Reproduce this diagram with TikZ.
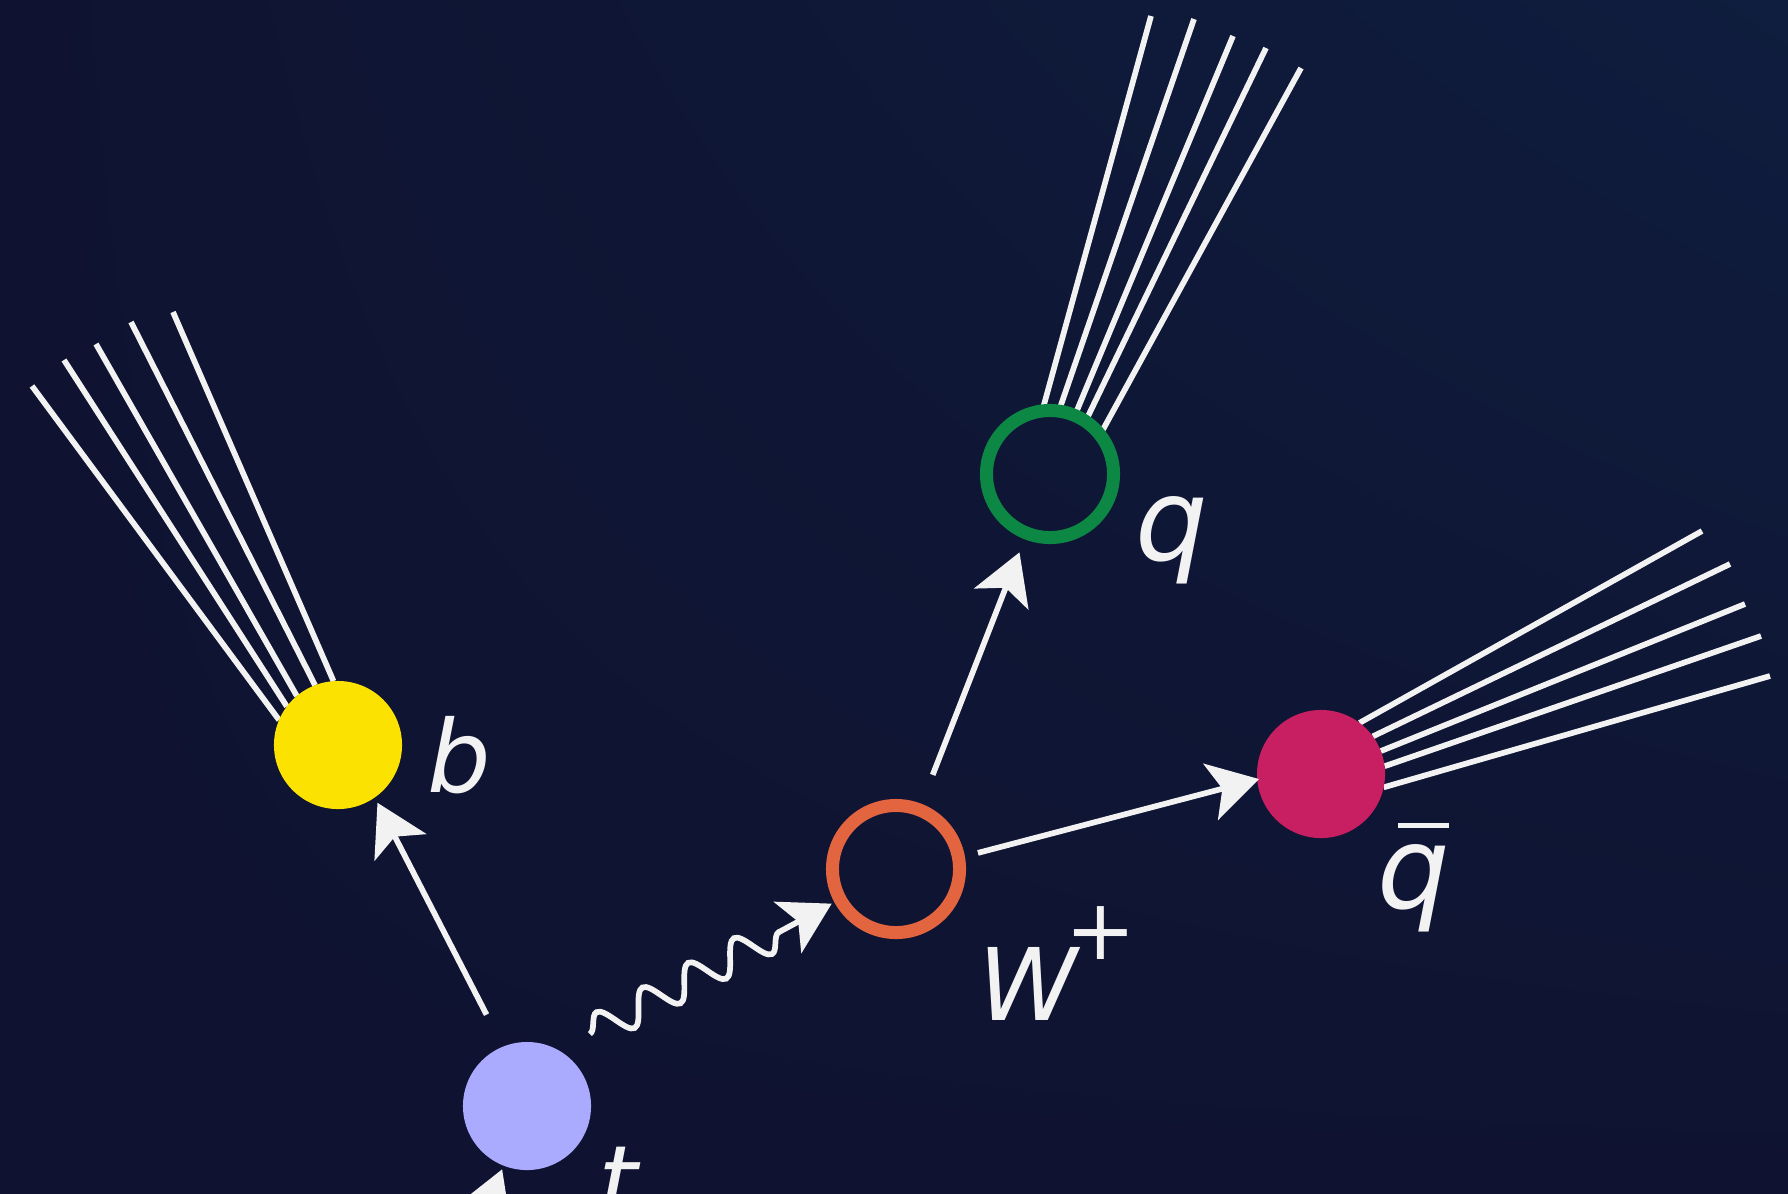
\documentclass[tikz,border=0pt]{standalone}
\usepackage{fontspec}
\usepackage{xcolor}
\usepackage{tikz}
\usetikzlibrary{arrows.meta,positioning,calc,decorations.pathmorphing,backgrounds,shadings}
\newfontfamily\lblfont{DejaVu Sans}
\definecolor{bgnavy}{RGB}{15,19,49}
\definecolor{bgnavyhi}{RGB}{15,29,62}
\definecolor{inkwhite}{RGB}{242,242,242}
\definecolor{topblue}{RGB}{170,170,255}
\definecolor{bottomyellow}{RGB}{252,226,0}
\definecolor{quarkgreen}{RGB}{12,136,68}
\definecolor{wboson}{RGB}{226,101,64}
\definecolor{antiquark}{RGB}{200,30,98}

\begin{document}
\begin{tikzpicture}[
  x=0.01cm, y=-0.01cm,
  blob/.style={circle, minimum size=1.28cm, inner sep=0pt, outer sep=0pt},
  ring/.style={circle, minimum size=1.27cm, inner sep=0pt, outer sep=0pt, line width=0.13cm},
  lab/.style={text=inkwhite, font=\lblfont\fontsize{28.5}{34}\selectfont\itshape, inner sep=0pt},
  qlab/.style={lab, font=\lblfont\fontsize{32.5}{38}\selectfont\itshape},
  arr/.style={-{Stealth[length=5mm, width=5.8mm, inset=1.2mm]}, line width=0.057cm, draw=inkwhite},
  jet/.style={line width=0.057cm, draw=inkwhite},
  wavy/.style={arr, decorate, decoration={snake, amplitude=1.6mm, segment length=5.2mm, post length=4.3mm}},
]
\useasboundingbox (0,0) rectangle (1788,1193);
\begin{scope}[on background layer]
  \shade[upper left=bgnavy, upper right=bgnavyhi, lower left=bgnavy, lower right=bgnavy]
    (0,0) rectangle (1788,1193);
\end{scope}

% particles
\node[blob, fill=topblue] (t) at (527,1106) {};
\node[blob, fill=bottomyellow] (b) at (338,745) {};
\node[ring, draw=wboson] (W) at (896,869) {};
\node[ring, draw=quarkgreen] (q) at (1050,474) {};
\node[blob, fill=antiquark] (qbar) at (1321,774) {};

% labels
\node[lab, anchor=base west] (tlbl) at (598,1217) {t};
\node[lab, anchor=base west] (blbl) at (427,792) {b};
\node[lab, anchor=base west] (Wlbl) at (978,1020) {W\kern-0.12em\raisebox{0.6em}{\upshape\fontsize{24}{24}\selectfont +}};
\node[qlab, anchor=base west] (qlbl) at (1135,560) {q};
\node[qlab, anchor=base west] (qbarlbl) at (1377,908)
  {\makebox[0pt][l]{\hspace{0.18em}\rule[0.7em]{0.44em}{0.04em}}q};

% decay lines
\coordinate (tin) at (430,1353);
\coordinate (wstart) at ($(t.60)!0.35cm!(W)$);
\coordinate (wend) at ($(W)!0.73cm!(t.60)$);
\draw[arr, shorten >=0.04cm] (tin) -- (t);
\draw[arr, shorten <=0.36cm, shorten >=0.06cm] (t.112) -- (b.-55);
\draw[wavy] (wstart) -- (wend);
\draw[arr, shorten <=0.375cm, shorten >=0.205cm] (W) -- (q);
\draw[arr, shorten <=0.2cm, shorten >=-0.02cm] (W.10) -- (qbar.185);

% jets
\coordinate (bj1) at (32,386);
\coordinate (bj2) at (64,360);
\coordinate (bj3) at (96,344);
\coordinate (bj4) at (131,322);
\coordinate (bj5) at (173,312);
\coordinate (qj1) at (1151,16);
\coordinate (qj2) at (1194,19);
\coordinate (qj3) at (1233,36);
\coordinate (qj4) at (1266,48);
\coordinate (qj5) at (1301,68);
\coordinate (qbj1) at (1702,531);
\coordinate (qbj2) at (1730,564);
\coordinate (qbj3) at (1745,604);
\coordinate (qbj4) at (1761,636);
\coordinate (qbj5) at (1770,676);
\begin{scope}[on background layer]
  \draw[jet] (b.157) -- (bj1);
  \draw[jet] (b.143) -- (bj2);
  \draw[jet] (b.130) -- (bj3);
  \draw[jet] (b.111) -- (bj4);
  \draw[jet] (b.94) -- (bj5);
  \draw[jet] (q.97) -- (qj1);
  \draw[jet] (q.82) -- (qj2);
  \draw[jet] (q.67) -- (qj3);
  \draw[jet] (q.56) -- (qj4);
  \draw[jet] (q.38) -- (qj5);
  \draw[jet] (qbar.53) -- (qbj1);
  \draw[jet] (qbar.36) -- (qbj2);
  \draw[jet] (qbar.21) -- (qbj3);
  \draw[jet] (qbar.7) -- (qbj4);
  \draw[jet] (qbar.-12) -- (qbj5);
\end{scope}
\end{tikzpicture}
\end{document}
